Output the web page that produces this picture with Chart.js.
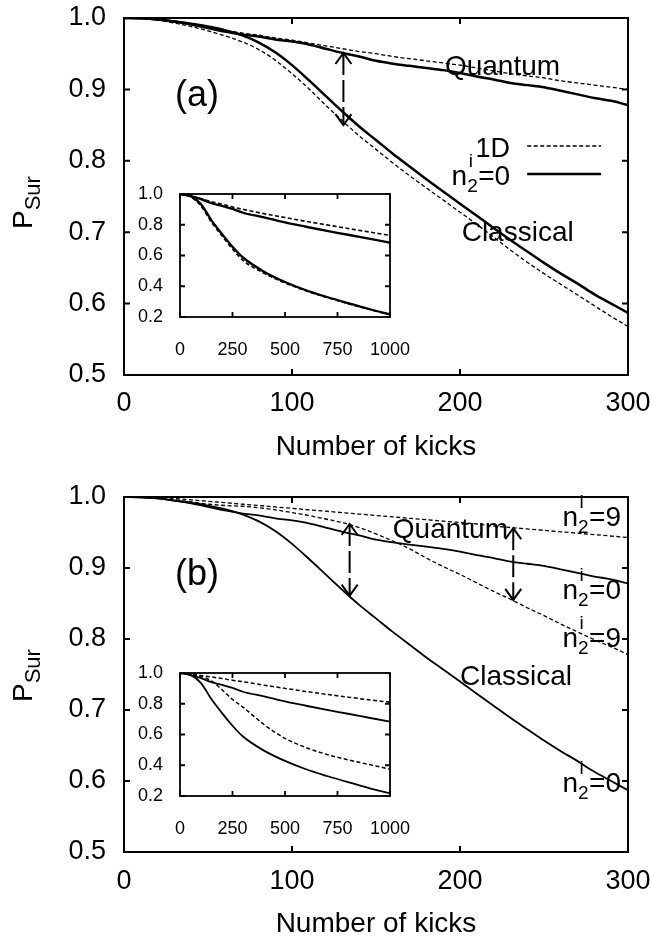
<!DOCTYPE html>
<html>
<head>
<title>P_Sur vs number of kicks</title>
<script src="https://cdn.jsdelivr.net/npm/chart.js"></script>
<style>
  body { margin: 0; background: #fff; width: 652px; height: 941px; overflow: hidden; position: relative; }
  canvas { position: absolute; }
</style>
</head>
<body>
<canvas id="mainA" width="652" height="470" style="left:0;top:0"></canvas>
<canvas id="insetA" width="284" height="182" style="left:130px;top:182px"></canvas>
<canvas id="mainB" width="652" height="471" style="left:0;top:470px"></canvas>
<canvas id="insetB" width="284" height="182" style="left:130px;top:661px"></canvas>
<script>
// main panels: number of kicks 0..300
var kicks = [0, 10, 20, 30, 40, 50, 60, 70, 80, 90, 100, 110, 120, 130, 140, 150,
  160, 170, 180, 190, 200, 210, 220, 230, 240, 250, 260, 270, 280, 290, 300];
var quantumN0 = [1.000, 0.9995, 0.998, 0.995, 0.991, 0.986, 0.981, 0.977, 0.974, 0.970, 0.967, 0.963, 0.957, 0.951, 0.946, 0.940,
  0.936, 0.933, 0.930, 0.927, 0.923, 0.918, 0.914, 0.909, 0.906, 0.903, 0.898, 0.893, 0.888, 0.884, 0.878];
var quantum1D = [1.000, 0.9995, 0.998, 0.995, 0.991, 0.987, 0.983, 0.979, 0.976, 0.972, 0.969, 0.965, 0.961, 0.957, 0.953, 0.950,
  0.946, 0.943, 0.940, 0.937, 0.934, 0.930, 0.926, 0.922, 0.919, 0.916, 0.912, 0.909, 0.906, 0.903, 0.900];
var classicalN0 = [1.000, 0.9995, 0.998, 0.995, 0.992, 0.988, 0.983, 0.976, 0.966, 0.952, 0.934, 0.913, 0.891, 0.869, 0.848, 0.829,
  0.810, 0.792, 0.774, 0.757, 0.740, 0.723, 0.706, 0.689, 0.673, 0.657, 0.642, 0.628, 0.613, 0.600, 0.587];
var classical1D = [1.000, 0.9995, 0.997, 0.993, 0.988, 0.982, 0.975, 0.967, 0.956, 0.941, 0.922, 0.901, 0.878, 0.856, 0.835, 0.816,
  0.797, 0.779, 0.762, 0.745, 0.728, 0.711, 0.693, 0.675, 0.658, 0.642, 0.627, 0.612, 0.597, 0.582, 0.568];
var quantumN9 = [1.000, 0.9998, 0.999, 0.998, 0.996, 0.994, 0.992, 0.990, 0.988, 0.986, 0.984, 0.982, 0.980, 0.978, 0.976, 0.974,
  0.972, 0.970, 0.968, 0.966, 0.964, 0.962, 0.959, 0.957, 0.955, 0.953, 0.951, 0.949, 0.947, 0.945, 0.943];
var classicalN9 = [1.000, 0.9995, 0.998, 0.996, 0.993, 0.990, 0.988, 0.987, 0.985, 0.982, 0.978, 0.974, 0.969, 0.964, 0.957, 0.948,
  0.938, 0.927, 0.914, 0.902, 0.891, 0.879, 0.867, 0.856, 0.844, 0.833, 0.821, 0.810, 0.799, 0.789, 0.778];

// insets: 0..1000 kicks
var insetKicks = [0, 50, 100, 150, 200, 250, 300, 400, 500, 600, 700, 800, 900, 1000];
var insetQuantumN0 = [1.0, 0.986, 0.967, 0.940, 0.923, 0.903, 0.878, 0.848, 0.815, 0.787, 0.760, 0.735, 0.709, 0.683];
var insetQuantum1D = [1.0, 0.987, 0.969, 0.950, 0.934, 0.916, 0.900, 0.872, 0.847, 0.822, 0.799, 0.776, 0.753, 0.731];
var insetClassicalN0 = [1.0, 0.988, 0.934, 0.829, 0.740, 0.657, 0.587, 0.495, 0.428, 0.374, 0.330, 0.290, 0.252, 0.218];
var insetClassical1D = [1.0, 0.982, 0.922, 0.816, 0.728, 0.642, 0.568, 0.485, 0.422, 0.370, 0.327, 0.287, 0.250, 0.214];
var insetQuantumN9 = [1.0, 0.994, 0.984, 0.974, 0.964, 0.953, 0.943, 0.921, 0.900, 0.880, 0.861, 0.843, 0.826, 0.810];
var insetClassicalN9 = [1.0, 0.990, 0.978, 0.948, 0.891, 0.828, 0.778, 0.665, 0.575, 0.515, 0.470, 0.435, 0.405, 0.375];

// tick labels
var xTicks = [0, 100, 200, 300];
var yTicks = [0.5, 0.6, 0.7, 0.8, 0.9, 1.0];
var insetXTicks = [0, 250, 500, 750, 1000];
var insetYTicks = [0.2, 0.4, 0.6, 0.8, 1.0];

// double arrows (kick, upper value, lower value)
var arrowsA = [[130.6, 0.951, 0.850]];
var arrowsB = [[134.3, 0.962, 0.861], [231.7, 0.956, 0.855]];

var FONT = '"Liberation Sans", Arial, Helvetica, sans-serif';
Chart.defaults.font.family = FONT;
Chart.defaults.color = '#000';

function pts(xs, ys) {
  return xs.map(function (x, i) { return { x: x, y: ys[i] }; });
}

function line(xs, ys, dashed, width) {
  return {
    data: pts(xs, ys),
    borderColor: '#000',
    borderWidth: width,
    borderDash: dashed ? [4, 2.5] : [],
    pointRadius: 0,
    cubicInterpolationMode: 'monotone',
    fill: false
  };
}

// box with inward ticks on all four sides (gnuplot style)
function frame(tick, width) {
  return {
    id: 'frame',
    afterDatasetsDraw: function (chart) {
      var ctx = chart.ctx, a = chart.chartArea, sx = chart.scales.x, sy = chart.scales.y;
      ctx.save();
      ctx.strokeStyle = '#000';
      ctx.lineWidth = width;
      ctx.setLineDash([]);
      ctx.beginPath();
      sx.ticks.forEach(function (t) {
        var p = sx.getPixelForValue(t.value);
        ctx.moveTo(p, a.bottom); ctx.lineTo(p, a.bottom - tick);
        ctx.moveTo(p, a.top); ctx.lineTo(p, a.top + tick);
      });
      sy.ticks.forEach(function (t) {
        var p = sy.getPixelForValue(t.value);
        ctx.moveTo(a.left, p); ctx.lineTo(a.left + tick, p);
        ctx.moveTo(a.right, p); ctx.lineTo(a.right - tick, p);
      });
      ctx.stroke();
      ctx.strokeRect(a.left, a.top, a.right - a.left, a.bottom - a.top);
      ctx.restore();
    }
  };
}

function txt(ctx, s, x, y, size, align) {
  ctx.font = size + 'px ' + FONT;
  ctx.textAlign = align || 'left';
  ctx.textBaseline = 'alphabetic';
  ctx.fillStyle = '#000';
  ctx.fillText(s, x, y);
}

// n with superscript i and subscript 2, then "=val"
function nLabel(ctx, x, y, val, align) {
  ctx.font = '28px ' + FONT;
  var nw = ctx.measureText('n').width;
  var rest = '=' + val;
  var rw = ctx.measureText(rest).width;
  var sw = 11;
  var x0 = align === 'right' ? x - (nw + sw + rw) : x;
  txt(ctx, 'n', x0, y, 28);
  txt(ctx, 'i', x0 + nw + 1.5, y - 18, 19);
  txt(ctx, '2', x0 + nw, y + 7, 19);
  txt(ctx, rest, x0 + nw + sw, y, 28);
}

function pSur(ctx, x, yBottom) {
  ctx.save();
  ctx.translate(x, yBottom);
  ctx.rotate(-Math.PI / 2);
  txt(ctx, 'P', 0, 0, 28);
  var w = ctx.measureText('P').width;
  txt(ctx, 'Sur', w, 8, 22);
  ctx.restore();
}

function drawArrows(chart, list) {
  var ctx = chart.ctx, sx = chart.scales.x, sy = chart.scales.y;
  ctx.save();
  ctx.strokeStyle = '#000';
  ctx.lineWidth = 2;
  list.forEach(function (ar) {
    var px = sx.getPixelForValue(ar[0]);
    var y1 = sy.getPixelForValue(ar[1]), y2 = sy.getPixelForValue(ar[2]);
    ctx.setLineDash([22, 5]);
    ctx.beginPath();
    ctx.moveTo(px, y1); ctx.lineTo(px, y2);
    ctx.stroke();
    ctx.setLineDash([]);
    ctx.beginPath();
    ctx.moveTo(px - 8, y1 + 11); ctx.lineTo(px, y1); ctx.lineTo(px + 8, y1 + 11);
    ctx.moveTo(px - 8, y2 - 11); ctx.lineTo(px, y2); ctx.lineTo(px + 8, y2 - 11);
    ctx.stroke();
  });
  ctx.restore();
}

// keep the plot box where the layout padding puts it (labels may hang over)
function fixX(h) {
  return function (ax) { ax.height = h; ax.paddingLeft = 0; ax.paddingRight = 0; };
}
function fixY(w) {
  return function (ax) { ax.width = w; ax.paddingTop = 0; ax.paddingBottom = 0; };
}

function mainChart(id, datasets, padTop, xHeight, tickPad, titlePad, notes) {
  return new Chart(document.getElementById(id), {
    type: 'line',
    data: { datasets: datasets },
    options: {
      responsive: false,
      animation: false,
      layout: { padding: { top: padTop, right: 24, left: 0, bottom: 0 } },
      plugins: { legend: { display: false }, tooltip: { enabled: false } },
      scales: {
        x: {
          type: 'linear', min: 0, max: 300,
          grid: { display: false, drawTicks: false },
          border: { display: false },
          afterBuildTicks: function (ax) { ax.ticks = xTicks.map(function (v) { return { value: v }; }); },
          ticks: { font: { size: 27 }, padding: tickPad, maxRotation: 0, autoSkip: false, callback: function (v) { return String(v); } },
          title: { display: true, text: 'Number of kicks', font: { size: 28 }, padding: { top: 0, bottom: titlePad } },
          afterFit: fixX(xHeight)
        },
        y: {
          min: 0.5, max: 1.0,
          grid: { display: false, drawTicks: false },
          border: { display: false },
          afterBuildTicks: function (ax) { ax.ticks = yTicks.map(function (v) { return { value: v }; }); },
          ticks: { font: { size: 27 }, padding: 18, autoSkip: false, callback: function (v) { return v.toFixed(1); } },
          afterFit: fixY(124)
        }
      }
    },
    plugins: [frame(6, 2), { id: 'notes', afterDraw: notes }]
  });
}

function insetChart(id, datasets) {
  return new Chart(document.getElementById(id), {
    type: 'line',
    data: { datasets: datasets },
    options: {
      responsive: false,
      animation: false,
      layout: { padding: { top: 12, right: 24, left: 0, bottom: 0 } },
      plugins: { legend: { display: false }, tooltip: { enabled: false } },
      scales: {
        x: {
          type: 'linear', min: 0, max: 1000,
          grid: { display: false, drawTicks: false },
          border: { display: false },
          afterBuildTicks: function (ax) { ax.ticks = insetXTicks.map(function (v) { return { value: v }; }); },
          ticks: { font: { size: 18 }, padding: 22, maxRotation: 0, autoSkip: false, callback: function (v) { return String(v); } },
          afterFit: fixX(47)
        },
        y: {
          min: 0.2, max: 1.0,
          grid: { display: false, drawTicks: false },
          border: { display: false },
          afterBuildTicks: function (ax) { ax.ticks = insetYTicks.map(function (v) { return { value: v }; }); },
          ticks: { font: { size: 18 }, padding: 17, autoSkip: false, callback: function (v) { return v.toFixed(1); } },
          afterFit: fixY(50)
        }
      }
    },
    plugins: [frame(5, 1.8)]
  });
}

// panel (a)
mainChart('mainA', [
  line(kicks, quantum1D, true, 1.3),
  line(kicks, classical1D, true, 1.3),
  line(kicks, quantumN0, false, 2.5),
  line(kicks, classicalN0, false, 2.5)
], 18, 95, 12, 6, function (chart) {
  var ctx = chart.ctx, sx = chart.scales.x, sy = chart.scales.y;
  var X = function (v) { return sx.getPixelForValue(v); };
  var Y = function (v) { return sy.getPixelForValue(v); };
  drawArrows(chart, arrowsA);
  pSur(ctx, 32, 229);
  txt(ctx, '(a)', X(30.4), Y(0.877), 36);
  txt(ctx, 'Quantum', X(191), Y(0.920), 28);
  txt(ctx, 'Classical', X(201), Y(0.687), 28);
  txt(ctx, '1D', X(229.8), Y(0.806), 27, 'right');
  nLabel(ctx, X(229.8), Y(0.766), '0', 'right');
  ctx.save();
  ctx.strokeStyle = '#000';
  ctx.lineWidth = 1.3;
  ctx.setLineDash([4, 2.5]);
  ctx.beginPath(); ctx.moveTo(X(240), Y(0.8207)); ctx.lineTo(X(284), Y(0.8207)); ctx.stroke();
  ctx.lineWidth = 2.5;
  ctx.setLineDash([]);
  ctx.beginPath(); ctx.moveTo(X(240), Y(0.7815)); ctx.lineTo(X(284), Y(0.7815)); ctx.stroke();
  ctx.restore();
});

insetChart('insetA', [
  line(insetKicks, insetQuantum1D, true, 1.6),
  line(insetKicks, insetClassical1D, true, 1.6),
  line(insetKicks, insetQuantumN0, false, 2.3),
  line(insetKicks, insetClassicalN0, false, 2.3)
]);

// panel (b)
mainChart('mainB', [
  line(kicks, quantumN9, true, 1.3),
  line(kicks, classicalN9, true, 1.3),
  line(kicks, quantumN0, false, 1.8),
  line(kicks, classicalN0, false, 1.8)
], 27, 89, 13, 0, function (chart) {
  var ctx = chart.ctx, sx = chart.scales.x, sy = chart.scales.y;
  var X = function (v) { return sx.getPixelForValue(v); };
  var Y = function (v) { return sy.getPixelForValue(v); };
  drawArrows(chart, arrowsB);
  pSur(ctx, 32, 232);
  txt(ctx, '(b)', X(30.4), Y(0.8755), 36);
  txt(ctx, 'Quantum', X(160), Y(0.942), 28);
  txt(ctx, 'Classical', X(200), Y(0.735), 28);
  nLabel(ctx, X(261), Y(0.959), '9');
  nLabel(ctx, X(261), Y(0.857), '0');
  nLabel(ctx, X(261), Y(0.789), '9');
  nLabel(ctx, X(261), Y(0.585), '0');
});

insetChart('insetB', [
  line(insetKicks, insetQuantumN9, true, 1.5),
  line(insetKicks, insetClassicalN9, true, 1.5),
  line(insetKicks, insetQuantumN0, false, 1.8),
  line(insetKicks, insetClassicalN0, false, 1.8)
]);
</script>
</body>
</html>
